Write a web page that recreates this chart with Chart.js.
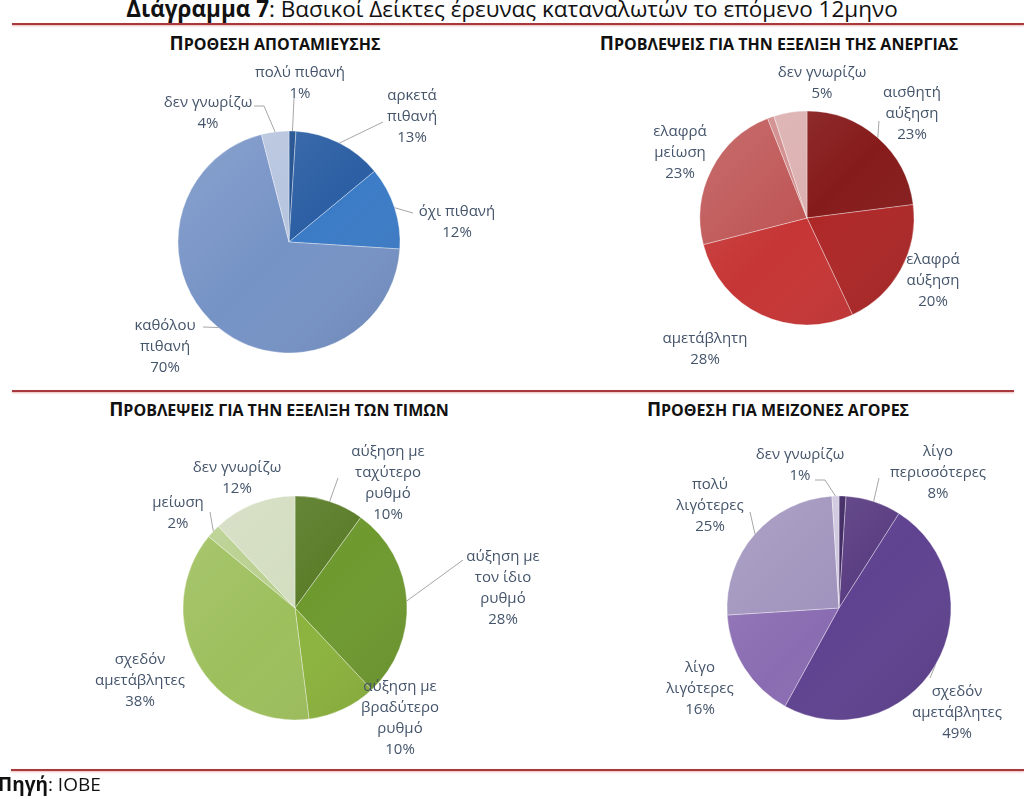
<!DOCTYPE html>
<html>
<head>
<meta charset="utf-8">
<script src="https://cdn.jsdelivr.net/npm/chart.js@4/dist/chart.umd.min.js"></script>
<style>
    body { margin: 0; width: 1024px; height: 799px; overflow: hidden; background: #fff; position: relative; font-family: "Open Sans", sans-serif; }
    .main-title { position: absolute; left: 0; width: 1024px; top: -4px; text-align: center; font-size: 22.5px; line-height: 26px; color: #111; }
    .rule { position: absolute; height: 2px; background: #a8393c; box-shadow: 0 1px 2px rgba(210, 90, 90, 0.45); }
    .pie-title { position: absolute; width: 500px; text-align: center; font-weight: bold; font-size: 16px; line-height: 22px; color: #111; text-transform: uppercase; }
    .pie-title::first-letter { font-size: 19px; }
    canvas { position: absolute; }
    .source { position: absolute; left: -2px; top: 771px; font-size: 19px; color: #111; }
</style>
</head>
<body>
<div class="main-title"><b>Διάγραμμα 7</b>: Βασικοί Δείκτες έρευνας καταναλωτών το επόμενο 12μηνο</div>
<div class="rule" style="left:12px; width:1012px; top:23px;"></div>
<div class="rule" style="left:12px; width:1002px; top:390px;"></div>
<div class="rule" style="left:11px; width:1013px; top:769px;"></div>

<div class="pie-title" style="left:25px; top:32px;">ΠΡΟΘΕΣΗ ΑΠΟΤΑΜΙΕΥΣΗΣ</div>
<div class="pie-title" style="left:529px; top:32px;">ΠΡΟΒΛΕΨΕΙΣ ΓΙΑ ΤΗΝ ΕΞΕΛΙΞΗ ΤΗΣ ΑΝΕΡΓΙΑΣ</div>
<div class="pie-title" style="left:29px; top:398px;">ΠΡΟΒΛΕΨΕΙΣ ΓΙΑ ΤΗΝ ΕΞΕΛΙΞΗ ΤΩΝ ΤΙΜΩΝ</div>
<div class="pie-title" style="left:528px; top:398px;">ΠΡΟΘΕΣΗ ΓΙΑ ΜΕΙΖΟΝΕΣ ΑΓΟΡΕΣ</div>

<canvas id="pie-savings" width="500" height="360" style="left:39px; top:62px;"></canvas>
<canvas id="pie-unemployment" width="500" height="360" style="left:557px; top:38px;"></canvas>
<canvas id="pie-prices" width="500" height="360" style="left:45px; top:428px;"></canvas>
<canvas id="pie-purchases" width="500" height="360" style="left:589px; top:428px;"></canvas>

<div class="source"><b>Πηγή</b>: ΙΟΒΕ</div>

<script>
// savings intention
const savingsLabels = [['πολύ πιθανή'], ['αρκετά', 'πιθανή'], ['όχι πιθανή'], ['καθόλου', 'πιθανή'], ['δεν γνωρίζω']];
const savingsValues = [1, 13, 12, 70, 4];

// unemployment outlook (one unlabelled sliver)
const unemploymentLabels = [['αισθητή', 'αύξηση'], ['ελαφρά', 'αύξηση'], ['αμετάβλητη'], ['ελαφρά', 'μείωση'], [], ['δεν γνωρίζω']];
const unemploymentValues = [23, 20, 28, 23, 1, 5];

// price outlook
const pricesLabels = [['αύξηση με', 'ταχύτερο', 'ρυθμό'], ['αύξηση με', 'τον ίδιο', 'ρυθμό'], ['αύξηση με', 'βραδύτερο', 'ρυθμό'], ['σχεδόν', 'αμετάβλητες'], ['μείωση'], ['δεν γνωρίζω']];
const pricesValues = [10, 28, 10, 38, 2, 12];

// major purchases (one unlabelled sliver)
const purchasesLabels = [[], ['λίγο', 'περισσότερες'], ['σχεδόν', 'αμετάβλητες'], ['λίγο', 'λιγότερες'], ['πολύ', 'λιγότερες'], ['δεν γνωρίζω']];
const purchasesValues = [1, 8, 49, 16, 25, 1];

const textColor = '#44546a';

// draws the wrapped labels + percentages and the grey leader lines
const pieLabels = {
    id: 'pieLabels',
    afterDatasetsDraw(chart, args, opts) {
        const ctx = chart.ctx;
        const arcs = chart.getDatasetMeta(0).data;
        const values = chart.data.datasets[0].data;
        ctx.save();
        // soft shading over the pie
        const a0 = arcs[0];
        const g = ctx.createLinearGradient(a0.x - a0.outerRadius, a0.y - a0.outerRadius, a0.x + a0.outerRadius, a0.y + a0.outerRadius);
        g.addColorStop(0, 'rgba(255,255,255,0.14)');
        g.addColorStop(0.5, 'rgba(255,255,255,0)');
        g.addColorStop(1, 'rgba(0,0,0,0.10)');
        ctx.beginPath();
        ctx.arc(a0.x, a0.y, a0.outerRadius, 0, Math.PI * 2);
        ctx.fillStyle = g;
        ctx.fill();

        ctx.strokeStyle = '#a6a6a6';
        ctx.lineWidth = 1;
        arcs.forEach((arc, i) => {
            const lead = opts.leaders[i];
            if (!lead) return;
            const mid = (arc.startAngle + arc.endAngle) / 2;
            ctx.beginPath();
            ctx.moveTo(arc.x + lead[0][0], arc.y + lead[0][1]);
            for (let k = 1; k < lead.length; k++) ctx.lineTo(arc.x + lead[k][0], arc.y + lead[k][1]);
            ctx.lineTo(arc.x + Math.cos(mid) * arc.outerRadius, arc.y + Math.sin(mid) * arc.outerRadius);
            ctx.stroke();
        });

        ctx.fillStyle = textColor;
        ctx.font = '15px "Open Sans"';
        ctx.textAlign = 'center';
        ctx.textBaseline = 'middle';
        arcs.forEach((arc, i) => {
            const pos = opts.pos[i];
            if (!pos) return;
            const lines = chart.data.labels[i].concat([values[i] + '%']);
            lines.forEach((line, k) => {
                ctx.fillText(line, arc.x + pos[0], arc.y + pos[1] + k * 21);
            });
        });
        ctx.restore();
    }
};

function makePie(id, labels, values, colors, radius, pos, leaders) {
    new Chart(document.getElementById(id).getContext('2d'), {
        type: 'pie',
        data: {
            labels: labels,
            datasets: [{
                data: values,
                backgroundColor: colors,
                borderColor: 'rgba(255,255,255,0.35)',
                borderWidth: 1,
                radius: radius
            }]
        },
        options: {
            responsive: false,
            animation: false,
            layout: { padding: 0 },
            plugins: {
                legend: { display: false },
                tooltip: { enabled: false },
                pieLabels: { pos: pos, leaders: leaders }
            }
        },
        plugins: [pieLabels]
    });
}

makePie('pie-savings', savingsLabels, savingsValues,
    ['#1f4f8f', '#2c5fa4', '#3b7bc6', '#7693c6', '#b6c4de'], 111,
    [[11, -169], [123, -146], [168, -30], [-124, 84], [-81, -139]],
    [[[5, -144]], [[94, -120]], [[124, -29]], [[-86, 85]], [[-35, -136], [-25, -136]]]);

makePie('pie-unemployment', unemploymentLabels, unemploymentValues,
    ['#861b1b', '#ae2727', '#c63535', '#bf5656', '#d08a8a', '#dcb0b0'], 107,
    [[105, -125], [126, 42], [-102, 121], [-127, -86], null, [15, -145]],
    [[[72, -97]], null, null, null, null, null]);

makePie('pie-prices', pricesLabels, pricesValues,
    ['#5b7d29', '#6e992f', '#8cb33d', '#9dbf5c', '#b7cf8d', '#d3ddc0'], 112,
    [[93, -156], [208, -51], [105, 79], [-155, 52], [-117, -105], [-58, -140]],
    [[[43, -130]], [[168, -48]], null, null, [[-85, -96]], null]);

makePie('pie-purchases', purchasesLabels, purchasesValues,
    ['#3d2560', '#5a3d82', '#5f4290', '#8a6cb2', '#a093bd', '#cfc7df'], 112,
    [null, [99, -156], [118, 84], [-139, 60], [-129, -123], [-39, -153]],
    [null, [[40, -130]], [[91, 70]], null, [[-89, -96]], [[-24, -128], [-14, -128]]]);
</script>
</body>
</html>
